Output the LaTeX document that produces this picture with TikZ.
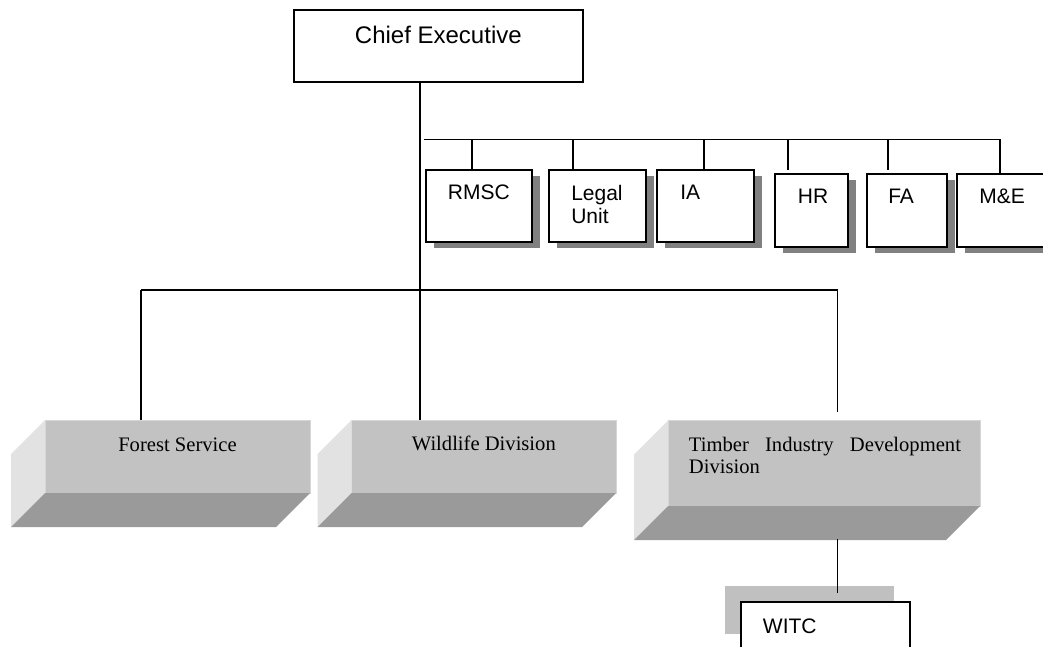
\documentclass[tikz,border=0pt]{standalone}
\usepackage{fontspec}
\setmainfont{Liberation Serif}
\newfontfamily\arialfont{Liberation Sans}
\usetikzlibrary{calc,shadows}
\definecolor{facefront}{HTML}{C2C2C2}
\definecolor{faceside}{HTML}{E2E2E2}
\definecolor{facebottom}{HTML}{9A9A9A}
\definecolor{faceedge}{HTML}{D6D6D6}
\definecolor{dropshade}{HTML}{808080}
\definecolor{backshade}{HTML}{C0C0C0}
\begin{document}
\begin{tikzpicture}[x=1pt,y=-1pt,line width=1.9pt,
  plainbox/.style={draw=black,fill=white,rectangle,inner sep=0pt,outer sep=0pt,anchor=north west},
  staffbox/.style={plainbox,minimum height=72.7pt,
    drop shadow={shadow xshift=8pt,shadow yshift=-6pt,opacity=1,fill=dropshade}},
  stafftext/.style={inner sep=0pt,anchor=base west,align=left,
    font={\arialfont\fontsize{21}{23.3}\selectfont}},
  divface/.style={fill=facefront,draw=faceedge,line width=1pt,rectangle,
    inner sep=0pt,outer sep=0pt,anchor=north west,minimum height=73pt},
  divtext/.style={inner sep=0pt,font={\fontsize{20.6}{21.6}\selectfont}},
  link/.style={draw=black,line width=1.9pt}]

\clip (0,0) rectangle (1043,647);
\fill[white] (0,0) rectangle (1043,647);

% ---- top of the hierarchy ----
\node[plainbox,minimum width=288.7pt,minimum height=72pt] (ce) at (294,10) {};
\node[inner sep=0pt,anchor=base,font={\arialfont\fontsize{24}{28}\selectfont}] (ce-t)
  at ($(ce.north)+(0,33.5)$) {Chief Executive};

% ---- staff units ----
\node[staffbox,minimum width=105.7pt,minimum height=71.7pt] (rm) at (426,170) {};
\node[staffbox,minimum width=96.4pt,minimum height=71.7pt] (lu) at (549.3,170) {};
\node[staffbox,minimum width=97pt,minimum height=71.7pt] (ia) at (657.3,170) {};
\node[staffbox,minimum width=72.7pt] (hr) at (775,174) {};
\node[staffbox,minimum width=79.4pt] (fa) at (867.3,174) {};
\node[staffbox,minimum width=92pt] (me) at (957.3,174) {};

% base anchors of multi-line labels sit on the last line
\node[stafftext] (rm-t) at ($(rm.north west)+(21,30)$) {RMSC};
\node[stafftext] (lu-t) at ($(lu.north west)+(21,53.3)$) {Legal\\Unit};
\node[stafftext] (ia-t) at ($(ia.north west)+(22,30)$) {IA};
\node[stafftext] (hr-t) at ($(hr.north west)+(22,30)$) {HR};
\node[stafftext] (fa-t) at ($(fa.north west)+(20,30)$) {FA};
\node[stafftext] (me-t) at ($(me.north west)+(21,30)$) {M\&E};

% ---- divisions (bevelled blocks) ----
\node[divface,minimum width=265pt] (fs) at (45,420) {};
\node[divface,minimum width=264.3pt] (wd) at (351.7,420) {};
\node[divface,minimum width=312pt,minimum height=85.3pt] (td) at (668,420.7) {};

\foreach \b in {fs,wd,td}{
  \fill[faceside] (\b.north west) -- (\b.south west) -- ++(-34,34)
    -- ($(\b.north west)+(-34,34)$) -- cycle;
  \fill[facebottom] (\b.south west) -- (\b.south east) -- ++(-34,34)
    -- ($(\b.south west)+(-34,34)$) -- cycle;
}

\node[divtext,anchor=base] (fs-t) at ($(fs.north)+(0,31)$) {Forest Service};
\node[divtext,anchor=base] (wd-t) at ($(wd.north)+(0,30.7)$) {Wildlife Division};
\node[divtext,anchor=base west,align=left] (td-t) at ($(td.north west)+(20,52.6)$)
  {\makebox[272pt][s]{Timber Industry Development}\\Division};

% ---- WITC ----
\node[plainbox,minimum width=169.3pt,minimum height=48.6pt,
  drop shadow={shadow xshift=-16pt,shadow yshift=16.6pt,opacity=1,fill=backshade}]
  (wt) at (740.7,602.3) {};
\node[stafftext] (wt-t) at ($(wt.north west)+(21.3,30.7)$) {WITC};

% ---- connectors ----
\coordinate (trunk) at (420,139.5);
\coordinate (split) at (420,290);
\coordinate (busL) at (424,139.5);
\coordinate (busR) at (1000,139.5);
\coordinate (divL) at (141,290);
\coordinate (divR) at (837.5,290);

\draw[link] (ce.south -| trunk) -- (split) -- (split |- wd.north);
\draw[link] (busL) -- (busR);
\draw[link] (divL) -- (divR);

\coordinate (d1) at (471.7,139.5);
\coordinate (d2) at (573.3,139.5);
\coordinate (d3) at (704,139.5);
\coordinate (d4) at (788.3,139.5);
\coordinate (d5) at (887.7,139.5);
\draw[link] (d1) -- (d1 |- rm.north);
\draw[link] (d2) -- (d2 |- lu.north);
\draw[link] (d3) -- (d3 |- ia.north);
\draw[link] (d4) -- ($(d4 |- hr.north)+(0,-4)$);
\draw[link] (d5) -- ($(d5 |- fa.north)+(0,-4)$);
\draw[link] (busR) -- (busR |- me.north);

\draw[link] (divL) -- (divL |- fs.north);
\draw[link] (divR) -- ($(divR |- td.north)+(0,-9)$);
\draw[link] ($(divR |- td.south)+(0,33)$) -- ($(divR |- wt.north)+(0,-9.3)$);
\end{tikzpicture}
\end{document}
